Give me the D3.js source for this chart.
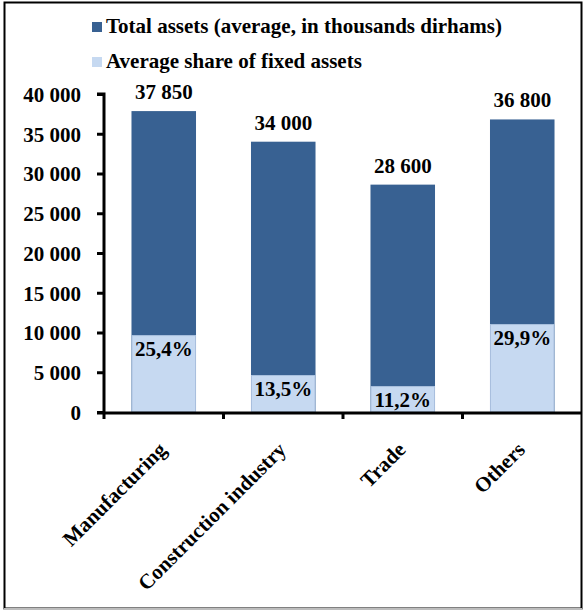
<!DOCTYPE html>
<html>
<head>
<meta charset="utf-8">
<script src="https://cdn.jsdelivr.net/npm/d3@7"></script>
<style>
  html, body { margin: 0; padding: 0; background: #fff; }
  svg { display: block; }
</style>
</head>
<body>
<svg id="chart" width="585" height="611"></svg>
<script>
// Sector averages
const categories = ["Manufacturing", "Construction industry", "Trade", "Others"];
const totalAssets = [37850, 34000, 28600, 36800];      // thousands dirhams
const fixedShare = [25.4, 13.5, 11.2, 29.9];           // % of total assets
const yTicks = [0, 5000, 10000, 15000, 20000, 25000, 30000, 35000, 40000];
const legendLabels = ["Total assets (average, in thousands dirhams)", "Average share of fixed assets"];

const colorTotal = "#386192";
const colorFixed = "#c6d9f1";
const FONT = "'Liberation Serif', 'Times New Roman', serif";
const FS = "21px";

const locale = d3.formatLocale({ decimal: ",", thousands: " ", grouping: [3], currency: ["", ""] });
const fmtInt = locale.format(",d");
const fmtPct = locale.format(".1f");

const rows = categories.map((c, i) => ({
  cat: c,
  total: totalAssets[i],
  share: fixedShare[i],
  fixed: totalAssets[i] * fixedShare[i] / 100
}));

const svg = d3.select("#chart");

function styleText(sel) {
  return sel.style("font-family", FONT).style("font-weight", "bold").style("font-size", FS).style("fill", "#000");
}

// frame
svg.append("rect").attr("x", 4.5).attr("y", 2.5).attr("width", 577).attr("height", 606)
  .attr("fill", "#fff").attr("stroke", "#000").attr("stroke-width", 2);
svg.append("line").attr("x1", 4).attr("x2", 582).attr("y1", 609).attr("y2", 609)
  .attr("stroke", "#bdbdbd").attr("stroke-width", 2);

const plot = { left: 104, right: 582, top: 94, bottom: 412 };

const x = d3.scaleBand().domain(categories).range([plot.left, plot.right]).paddingInner(0.46).paddingOuter(0.23);
const xb = d3.scaleBand().domain(categories).range([plot.left, plot.right]);
const y = d3.scaleLinear().domain([0, 40000]).range([plot.bottom, plot.top]);

// bars: total (dark) with the fixed-asset share (light) over its lower part
const g = svg.append("g");
g.selectAll("rect.total").data(rows).join("rect")
  .attr("class", "total")
  .attr("x", d => x(d.cat)).attr("width", x.bandwidth())
  .attr("y", d => y(d.total)).attr("height", d => y(0) - y(d.total))
  .attr("fill", colorTotal);
g.selectAll("rect.fixed").data(rows).join("rect")
  .attr("class", "fixed")
  .attr("x", d => x(d.cat) + 0.5).attr("width", x.bandwidth() - 1)
  .attr("y", d => y(d.fixed)).attr("height", d => y(0) - y(d.fixed))
  .attr("fill", colorFixed).attr("stroke", "#a9c0de").attr("stroke-width", 1);

// value labels
g.selectAll("text.tot").data(rows).join("text")
  .attr("class", "tot")
  .attr("x", d => x(d.cat) + x.bandwidth() / 2)
  .attr("y", d => y(d.total) - 12)
  .attr("text-anchor", "middle")
  .call(styleText)
  .text(d => fmtInt(d.total));
g.selectAll("text.pct").data(rows).join("text")
  .attr("class", "pct")
  .attr("x", d => x(d.cat) + x.bandwidth() / 2)
  .attr("y", d => y(d.fixed) + 20)
  .attr("text-anchor", "middle")
  .call(styleText)
  .text(d => fmtPct(d.share) + "%");

// axes
const yAxis = d3.axisLeft(y).tickValues(yTicks).tickFormat(fmtInt).tickSize(7).tickPadding(16);
const ya = svg.append("g").attr("transform", `translate(${plot.left},0)`).call(yAxis);
ya.select(".domain").attr("stroke", "#000").attr("stroke-width", 3).attr("d", `M-7,${plot.top}H0V${plot.bottom + 1}`);
ya.selectAll(".tick line").attr("stroke", "#000").attr("stroke-width", 3);
ya.selectAll(".tick text").call(styleText).attr("dy", "0.35em");

const xAxis = d3.axisBottom(xb).tickValues([]).tickSizeOuter(0);
const xa = svg.append("g").attr("transform", `translate(0,${plot.bottom + 1})`).call(xAxis);
xa.select(".domain").attr("stroke", "#000").attr("stroke-width", 3).attr("d", `M${plot.left - 7},0H${plot.right}`);
// boundary ticks between categories
xa.selectAll("line.bt").data(categories).join("line")
  .attr("class", "bt")
  .attr("x1", d => xb(d)).attr("x2", d => xb(d))
  .attr("y1", 0).attr("y2", 6)
  .attr("stroke", "#000").attr("stroke-width", 3);

// rotated category labels
svg.append("g").selectAll("text").data(categories).join("text")
  .attr("text-anchor", "end")
  .attr("transform", d => `translate(${xb(d) + xb.bandwidth() / 2 + 4},${plot.bottom + 39}) rotate(-45)`)
  .call(styleText)
  .text(d => d);

// legend
const leg = svg.append("g").attr("transform", "translate(92,22)");
const legendColors = [colorTotal, colorFixed];
legendLabels.forEach((lab, i) => {
  const row = leg.append("g").attr("transform", `translate(0,${i * 35})`);
  row.append("rect").attr("width", 10).attr("height", 10).attr("fill", legendColors[i]);
  row.append("text").attr("x", 14).attr("y", 11).call(styleText).text(lab);
});
</script>
</body>
</html>
